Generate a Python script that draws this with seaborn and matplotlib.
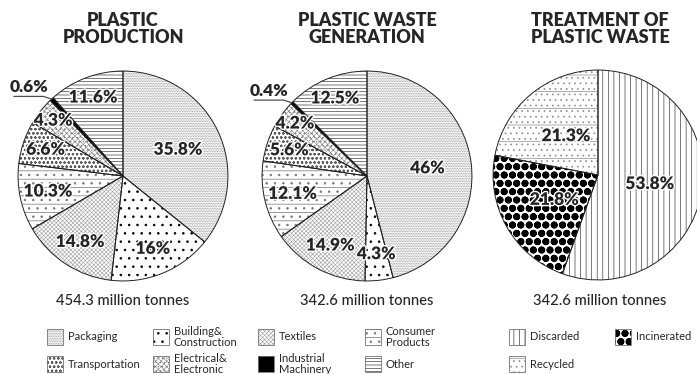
import numpy as np
import seaborn as sns
import matplotlib.pyplot as plt
import matplotlib.patheffects as pe
from matplotlib.patches import Rectangle

sns.set_style("white")
plt.rcParams['font.family'] = ['Lato', 'DejaVu Sans']
plt.rcParams['hatch.linewidth'] = 0.5

# data
sectors = ['Packaging', 'Building&\nConstruction', 'Textiles', 'Consumer\nProducts',
           'Transportation', 'Electrical&\nElectronic', 'Industrial\nMachinery', 'Other']
production = [35.8, 16, 14.8, 10.3, 6.6, 4.3, 0.6, 11.6]
generation = [46, 4.3, 14.9, 12.1, 5.6, 4.2, 0.4, 12.5]
treatments = ['Discarded', 'Incinerated', 'Recycled']
treatment = [53.8, 21.8, 21.3]
titles = ['PLASTIC\nPRODUCTION', 'PLASTIC WASTE\nGENERATION', 'TREATMENT OF\nPLASTIC WASTE']
totals = ['454.3 million tonnes', '342.6 million tonnes', '342.6 million tonnes']

# styles (face, hatch, hatch colour, hatch linewidth)
sector_style = [
    ('white', '..........', '0.55', 0.5),
    ('white', '..', 'black', 0.6),
    ('white', 'xxxxxxxx', '0.62', 0.4),
    ('white', '--..', '0.45', 0.5),
    ('white', 'oooo', '0.35', 0.5),
    ('white', 'xxxxxx....', '0.5', 0.4),
    ('black', '', 'black', 0.5),
    ('white', '-----', '0.25', 0.5),
]
treat_style = [
    ('white', '|||', '0.25', 0.5),
    ('white', 'OOoo..', 'black', 0.9),
    ('white', '...-', '0.55', 0.5),
]
sector_r = [0.58, 0.75, 0.75, 0.73, 0.78, 0.85, None, 0.8]
treat_r = [0.5, 0.48, 0.48]

fig = plt.figure(figsize=(6.97, 3.74), dpi=100)
W, H = 697, 374
R = 106
centers = [(123, 176), (367, 176), (598, 175)]
halo = [pe.withStroke(linewidth=2, foreground='white')]


def style_patch(p, fc, h, hc, lw):
    p.set_facecolor(fc)
    p.set_edgecolor(hc)
    p.set_hatch(h)
    if hasattr(p, 'set_hatch_linewidth'):
        p.set_hatch_linewidth(lw)
    else:
        p._hatch_linewidth = lw


def draw(ax, values, styles, radii):
    wedges, _ = ax.pie(values, startangle=90, counterclock=False,
                       wedgeprops=dict(linewidth=0))
    for w, st in zip(wedges, styles):
        style_patch(w, *st)
    ax.pie(values, startangle=90, counterclock=False,
           wedgeprops=dict(fill=False, edgecolor='#222222', linewidth=0.7))
    total = sum(values)
    cum = 0
    for v, r in zip(values, radii):
        mid = (cum + v / 2) / total * 360
        cum += v
        a = np.deg2rad(90 - mid)
        if r is None:
            ex, ey = np.cos(a), np.sin(a)
            ly = ey + 0.025
            x0, x1 = ex - 0.36, ex - 0.08
            ax.plot([x0, x1, ex], [ly, ly, ey], color='0.3', lw=0.9, clip_on=False)
            ax.text((x0 + x1) / 2, ly + 0.01, f'{v:g}%', ha='center', va='bottom',
                    fontsize=12.5, fontweight='heavy', clip_on=False)
        else:
            ax.text(r * np.cos(a), r * np.sin(a), f'{v:g}%', ha='center',
                    va='center', fontsize=12.5, fontweight='heavy', path_effects=halo)


datasets = [(production, sector_style, sector_r), (generation, sector_style, sector_r),
            (treatment, treat_style, treat_r)]
for i, ((cx, cy), (vals, st, rr)) in enumerate(zip(centers, datasets)):
    ax = fig.add_axes([(cx - R) / W, (H - cy - R) / H, 2 * R / W, 2 * R / H])
    draw(ax, vals, st, rr)
    ax.set_xlim(-1.01, 1.01)
    ax.set_ylim(-1.01, 1.01)
    ax.set_aspect('equal')
    ax.axis('off')
    tx = (cx if i < 2 else 600) / W
    fig.text(tx, 1 - 29 / H, titles[i], ha='center', va='center',
             fontsize=13, fontweight='heavy', linespacing=0.95)
    fig.text(tx, 1 - 301 / H, totals[i], ha='center', va='center', fontsize=10.6,
             fontweight='medium')

# legend grid (pixel positions of each entry's swatch)
sector_cells = [(47, 337), (153, 337), (258, 337), (365, 337),
                (47, 364), (153, 364), (258, 364), (365, 364)]
treat_cells = [(509, 337), (615, 337), (509, 364)]
legend_groups = [(sectors, sector_style, sector_cells),
                 (treatments, treat_style, treat_cells)]
for names, styles, cells in legend_groups:
    for name, st, (x, y) in zip(names, styles, cells):
        sw = Rectangle((x / W, 1 - (y + 8) / H), 16 / W, 16 / H,
                       transform=fig.transFigure, linewidth=0)
        style_patch(sw, *st)
        fig.add_artist(sw)
        fig.add_artist(Rectangle((x / W, 1 - (y + 8) / H), 16 / W, 16 / H,
                                 transform=fig.transFigure, fill=False,
                                 edgecolor='0.45', linewidth=0.6))
        fig.text((x + 21) / W, 1 - y / H, name, ha='left', va='center',
                 fontsize=8, linespacing=0.95)

fig.savefig('out.png', dpi=100)
